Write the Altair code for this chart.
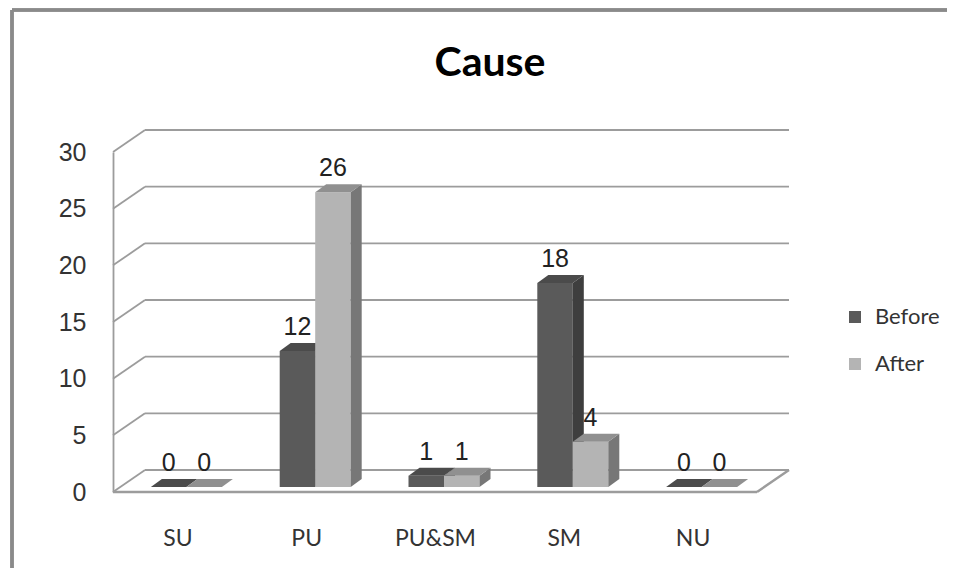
import altair as alt
import pandas as pd

# ---- data ----
categories = ["SU", "PU", "PU&SM", "SM", "NU"]
before = [0, 12, 1, 18, 0]
after = [0, 26, 1, 4, 0]
series_names = ["Before", "After"]
y_ticks = [0, 5, 10, 15, 20, 25, 30]

# ---- layout / style (pixels) ----
W, H = 644, 340
YMAX = 30
NCAT = len(categories)
ux = NCAT / W          # x data units per pixel
uy = YMAX / H          # y data units per pixel
DEPTH_DX, DEPTH_DY = 32 * ux, 22 * uy    # back-wall offset
BAR_DX, BAR_DY = 9 * ux, 5 * uy          # bar front offset from front plane
THICK_DX, THICK_DY = 11 * ux, 8 * uy     # bar depth
BAR_W = 35.5 * ux

GRID_COLOR = "#9c9c9c"
colors = {
    "Before": {"front": "#5a5a5a", "side": "#3e3e3e", "top": "#4b4b4b"},
    "After": {"front": "#b4b4b4", "side": "#777777", "top": "#909090"},
}

# ---- build geometry tables from the values ----
fronts, sides, tops, labels = {}, {}, {}, []
for s_idx, (sname, vals) in enumerate(zip(series_names, [before, after])):
    fr, sd, tp = [], [], []
    for i, (cat, v) in enumerate(zip(categories, vals)):
        c = i + 0.5
        x0 = c - BAR_W + s_idx * BAR_W + BAR_DX
        x1 = x0 + BAR_W
        base = BAR_DY
        topv = v + BAR_DY
        bid = f"{sname}-{cat}"
        fr.append({"x": x0, "x2": x1, "y": base, "y2": topv, "series": sname, "cat": cat, "value": v})
        sd += [
            {"bar": bid, "x": x1, "y": topv, "y2": base},
            {"bar": bid, "x": x1 + THICK_DX, "y": topv + THICK_DY, "y2": base + THICK_DY},
        ]
        tp += [
            {"bar": bid, "x": x0, "y": topv, "y2": topv},
            {"bar": bid, "x": x0 + THICK_DX, "y": topv + THICK_DY, "y2": topv},
            {"bar": bid, "x": x1, "y": topv + THICK_DY, "y2": topv},
            {"bar": bid, "x": x1 + THICK_DX, "y": topv + THICK_DY, "y2": topv + THICK_DY},
        ]
        labels.append({"x": (x0 + x1) / 2, "y": topv, "label": str(v)})
    fronts[sname] = pd.DataFrame(fr)
    sides[sname] = pd.DataFrame(sd)
    tops[sname] = pd.DataFrame(tp)
labels = pd.DataFrame(labels)

back_grid = pd.DataFrame({"x": [DEPTH_DX] * len(y_ticks),
                          "x2": [NCAT + DEPTH_DX] * len(y_ticks),
                          "y": [t + DEPTH_DY for t in y_ticks]})
side_grid = pd.DataFrame({"x": [0.0] * len(y_ticks), "x2": [DEPTH_DX] * len(y_ticks),
                          "y": y_ticks, "y2": [t + DEPTH_DY for t in y_ticks]})
floor_edges = pd.DataFrame({"x": [0.0, NCAT], "x2": [NCAT, NCAT + DEPTH_DX],
                            "y": [0.0, 0.0], "y2": [0.0, DEPTH_DY]})

xscale = alt.Scale(domain=[0, NCAT], nice=False, zero=False)
yscale = alt.Scale(domain=[0, YMAX], nice=False, zero=False)

label_expr = "[" + ",".join(f"'{c}'" for c in categories) + "][floor(datum.value)]"

x_axis = alt.Axis(values=[i + 0.5 for i in range(NCAT)], labelExpr=label_expr,
                  title=None, domain=False, ticks=False, grid=False,
                  labelFont="Lato", labelFontSize=23, labelColor="#333333",
                  labelPadding=35, labelBaseline="top")
y_axis = alt.Axis(values=y_ticks, title=None, grid=False, ticks=False,
                  domain=True, domainColor=GRID_COLOR, domainWidth=1.8,
                  labelFont="Liberation Sans", labelFontSize=25, labelColor="#333333",
                  labelPadding=27)

back = alt.Chart(back_grid).mark_rule(color=GRID_COLOR, strokeWidth=1.8).encode(
    x=alt.X("x:Q", scale=xscale, axis=x_axis),
    x2="x2:Q",
    y=alt.Y("y:Q", scale=yscale, axis=y_axis),
)
diag = alt.Chart(side_grid).mark_rule(color=GRID_COLOR, strokeWidth=1.8).encode(
    x=alt.X("x:Q", scale=xscale), x2="x2:Q",
    y=alt.Y("y:Q", scale=yscale), y2="y2:Q",
)
floor = alt.Chart(floor_edges).mark_rule(color=GRID_COLOR, strokeWidth=2.4).encode(
    x=alt.X("x:Q", scale=xscale), x2="x2:Q",
    y=alt.Y("y:Q", scale=yscale), y2="y2:Q",
)

color_scale = alt.Scale(domain=series_names,
                        range=[colors[s]["front"] for s in series_names])
legend = alt.Legend(title=None, orient="none", legendX=731, legendY=154,
                    symbolType="square", symbolSize=144, symbolStrokeWidth=0,
                    labelFont="Lato", labelFontSize=22, labelColor="#333333",
                    labelOffset=9, rowPadding=25)

bar_layers = []
for sname in series_names:
    front = alt.Chart(fronts[sname]).mark_rect().encode(
        x=alt.X("x:Q", scale=xscale), x2="x2:Q",
        y=alt.Y("y:Q", scale=yscale), y2="y2:Q",
        color=alt.Color("series:N", scale=color_scale, legend=legend),
    )
    side = alt.Chart(sides[sname]).mark_area(orient="vertical", color=colors[sname]["side"]).encode(
        x=alt.X("x:Q", scale=xscale),
        y=alt.Y("y:Q", scale=yscale), y2="y2:Q",
        detail="bar:N",
    )
    top = alt.Chart(tops[sname]).mark_area(orient="vertical", color=colors[sname]["top"]).encode(
        x=alt.X("x:Q", scale=xscale),
        y=alt.Y("y:Q", scale=yscale), y2="y2:Q",
        detail="bar:N",
    )
    bar_layers += [front, side, top]

text = alt.Chart(labels).mark_text(font="Liberation Sans", fontSize=25, color="#222222",
                                   baseline="alphabetic", dy=-16).encode(
    x=alt.X("x:Q", scale=xscale),
    y=alt.Y("y:Q", scale=yscale),
    text="label:N",
)

frame_top = alt.Chart(labels).mark_rule(color="#8a8a8a", strokeWidth=2.5).encode(
    x=alt.value(-101), x2=alt.value(860), y=alt.value(-142))
frame_left = alt.Chart(labels).mark_rule(color="#8a8a8a", strokeWidth=2.5).encode(
    x=alt.value(-101), y=alt.value(-142), y2=alt.value(440))

chart = alt.layer(back, diag, floor, *bar_layers, text, frame_top, frame_left).properties(
    width=W, height=H,
    title=alt.TitleParams("Cause", font="Lato", fontSize=41, fontWeight="bold",
                          color="#000000", anchor="middle", frame="group",
                          dx=55, offset=-76),
    autosize=alt.AutoSizeParams(type="none"),
    padding={"left": 105, "top": 144, "right": 190, "bottom": 76},
).configure(background="white").configure_view(stroke=None)

chart.save("out.html", embed_options={"renderer": "svg", "actions": False})
